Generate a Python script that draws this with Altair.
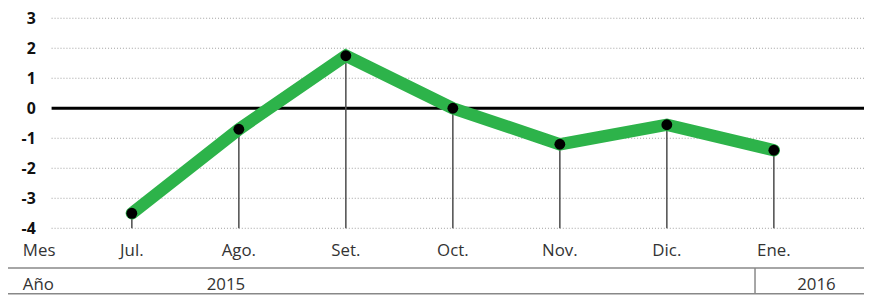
import altair as alt
import pandas as pd

months = ["Jul.", "Ago.", "Set.", "Oct.", "Nov.", "Dic.", "Ene."]
values = [-3.5, -0.7, 1.75, 0.0, -1.2, -0.55, -1.4]
grid_vals = [3, 2, 1, -1, -2, -3, -4]
tick_vals = [3, 2, 1, 0, -1, -2, -3, -4]
years = ["2015", "2016"]
year_pos = [220, 816]  # svg x (layout)

df = pd.DataFrame({"i": list(range(len(months))), "m": months, "v": values})
grid_df = pd.DataFrame({"v": grid_vals})
tick_df = pd.DataFrame({"v": tick_vals, "lab": [str(t) for t in tick_vals]})

W, H = 864, 212
xs = alt.Scale(domain=[-125 / 108, (W - 125) / 108], nice=False, zero=False)
ys = alt.Scale(domain=[-4, 3], nice=False, zero=False)
X = alt.X("i:Q", scale=xs, axis=None)
Y = alt.Y("v:Q", scale=ys, axis=None)

FONT = "Open Sans"
TXT = "#333333"

grid = alt.Chart(grid_df).mark_rule(color="#a0a0a0", strokeWidth=1, strokeDash=[1, 2]).encode(
    y=alt.Y("v:Q", scale=ys, axis=None), x=alt.value(44), x2=alt.value(W))
zero = alt.Chart(pd.DataFrame({"v": [0]})).mark_rule(color="#000000", strokeWidth=3).encode(
    y=alt.Y("v:Q", scale=ys, axis=None), x=alt.value(44), x2=alt.value(W))
ylab = alt.Chart(tick_df).mark_text(align="right", baseline="middle", fontSize=16, fontWeight="bold",
                                    font=FONT, color="#111111", dy=1).encode(
    y=alt.Y("v:Q", scale=ys, axis=None), x=alt.value(28), text="lab:N")

stems = alt.Chart(df).mark_rule(color="#555555", strokeWidth=1.6).encode(
    x=X, y=Y, y2=alt.datum(-4))
line = alt.Chart(df).mark_line(color="#2DB34A", strokeWidth=12.5, strokeCap="round").encode(x=X, y=Y)
pts = alt.Chart(df).mark_point(filled=True, color="#000000", size=120, opacity=1).encode(x=X, y=Y)

mlab = alt.Chart(df).mark_text(baseline="alphabetic", fontSize=17, font=FONT, color=TXT).encode(
    x=X, y=alt.value(240), text="m:N")
mes = alt.Chart(pd.DataFrame({"t": ["Mes"]})).mark_text(align="left", baseline="alphabetic", fontSize=17,
                                                         font=FONT, color=TXT).encode(
    x=alt.value(15), y=alt.value(240), text="t:N")
ano = alt.Chart(pd.DataFrame({"t": ["Año"]})).mark_text(align="left", baseline="alphabetic", fontSize=17,
                                                         font=FONT, color=TXT).encode(
    x=alt.value(15), y=alt.value(274), text="t:N")
yr_df = pd.DataFrame({"t": years, "px": year_pos})
yr = alt.Chart(yr_df).mark_text(baseline="alphabetic", fontSize=17, font=FONT, color=TXT).encode(
    x=alt.X("px:Q", scale=None, axis=None), y=alt.value(274), text="t:N")

hl = alt.Chart(pd.DataFrame({"y": [252, 278]})).mark_rule(color="#888888", strokeWidth=1.5).encode(
    y=alt.Y("y:Q", scale=None, axis=None), x=alt.value(0), x2=alt.value(W))
sep = alt.Chart(pd.DataFrame({"x": [754]})).mark_rule(color="#888888", strokeWidth=1.5).encode(
    x=alt.X("x:Q", scale=None, axis=None), y=alt.value(252), y2=alt.value(278))

chart = alt.layer(grid, zero, ylab, stems, line, pts, mlab, mes, ano, yr, hl, sep).properties(
    width=W, height=H, autosize=alt.AutoSizeParams(type="none"),
    padding={"left": 0, "right": 0, "top": 9, "bottom": 68}
).configure_view(stroke=None)

chart.save("out.html", embed_options={"renderer": "svg", "actions": False})
